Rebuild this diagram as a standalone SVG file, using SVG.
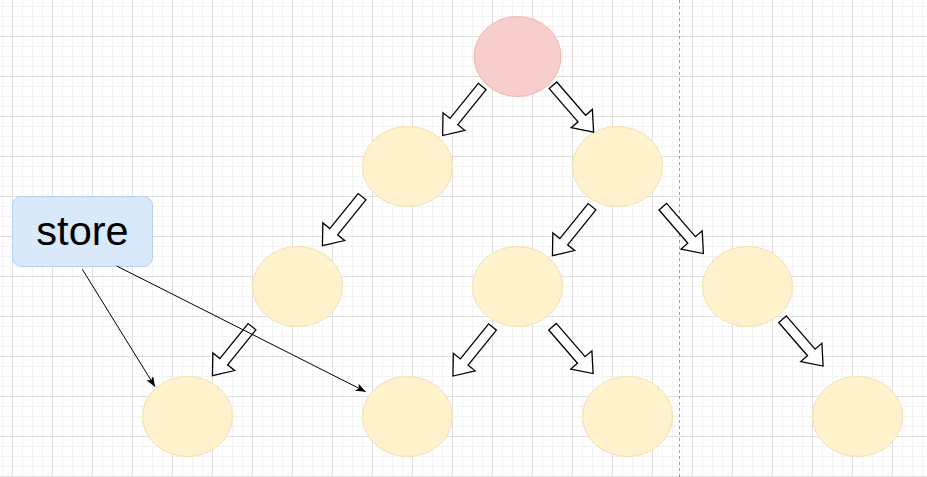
<svg xmlns="http://www.w3.org/2000/svg" width="927" height="477" viewBox="0 0 927 477">
  <defs>
    <pattern id="minor" patternUnits="userSpaceOnUse" x="2" y="6" width="10" height="10">
      <path d="M0.5,0 V10 M0,0.5 H10" fill="none" stroke="#f3f3f3" stroke-width="1"/>
    </pattern>
    <pattern id="major" patternUnits="userSpaceOnUse" x="12" y="36" width="40" height="40">
      <path d="M0.5,0 V40 M0,0.5 H40" fill="none" stroke="#e0e0e0" stroke-width="1"/>
    </pattern>
    <marker id="arr" viewBox="0 0 10 8" markerUnits="userSpaceOnUse" markerWidth="10" markerHeight="8" refX="10" refY="4" orient="auto">
      <path d="M0,0 L10,4 L0,8 L2.5,4 Z" fill="#000"/>
    </marker>
    <path id="fdl" d="M0,-5 H45 V-14 L63,0 L45,14 V5 H0 Z"/>
    <path id="fdr" d="M0,-5 H44 V-14 L62,0 L44,14 V5 H0 Z"/>
  </defs>
  <style>
    .yel { fill: #fff2cc; stroke: #f3e0ac; stroke-width: 1; }
    .red { fill: #f8cecc; stroke: #eeb6b3; stroke-width: 1; }
    .blue { fill: #dae8fc; stroke: #b9d0f0; stroke-width: 1; }
    .flex { fill: #ffffff; stroke: #000000; stroke-width: 1.3; stroke-linejoin: miter; }
    .link { fill: none; stroke: #000000; stroke-width: 1; marker-end: url(#arr); }
    .lbl { font-family: "Liberation Sans", Arial, sans-serif; font-size: 41.5px; fill: #000; }
  </style>
  <rect x="0" y="0" width="927" height="477" fill="#ffffff"/>
  <rect x="0" y="0" width="927" height="477" fill="url(#minor)"/>
  <rect x="0" y="0" width="927" height="477" fill="url(#major)"/>
  <line x1="679.5" y1="0" x2="679.5" y2="477" stroke="#a0a0a0" stroke-width="1" stroke-dasharray="3,3"/>

  <g id="root"><ellipse class="red" cx="517.5" cy="56.5" rx="43.5" ry="40"/></g>
  <g id="n2l"><ellipse class="yel" cx="407.5" cy="166.5" rx="45" ry="40"/></g>
  <g id="n2r"><ellipse class="yel" cx="617.5" cy="166.5" rx="45" ry="40"/></g>
  <g id="n3a"><ellipse class="yel" cx="297.5" cy="286.5" rx="45" ry="40"/></g>
  <g id="n3b"><ellipse class="yel" cx="517.5" cy="286.5" rx="45" ry="40"/></g>
  <g id="n3c"><ellipse class="yel" cx="747.5" cy="286.5" rx="45" ry="40"/></g>
  <g id="n4a"><ellipse class="yel" cx="187.5" cy="416.5" rx="45" ry="40"/></g>
  <g id="n4b"><ellipse class="yel" cx="407.5" cy="416.5" rx="45" ry="40"/></g>
  <g id="n4c"><ellipse class="yel" cx="627.5" cy="416.5" rx="45" ry="40"/></g>
  <g id="n4d"><ellipse class="yel" cx="857.5" cy="416.5" rx="45" ry="40"/></g>
  <g id="store">
    <rect class="blue" x="12.5" y="196.5" width="140" height="70" rx="9" ry="9"/>
    <text class="lbl" x="82.5" y="244.5" text-anchor="middle">store</text>
  </g>

  <g id="connectors">
    <use href="#fdl" class="flex" transform="translate(482.2,86.5) rotate(128.9)"/>
    <use href="#fdr" class="flex" transform="translate(553,85.3) rotate(49.1)"/>
    <use href="#fdl" class="flex" transform="translate(362,196.7) rotate(128.9)"/>
    <use href="#fdl" class="flex" transform="translate(592,206.7) rotate(128.9)"/>
    <use href="#fdr" class="flex" transform="translate(662.8,206.7) rotate(49.1)"/>
    <use href="#fdr" class="flex" transform="translate(782.5,319.2) rotate(49.1)"/>
    <use href="#fdl" class="flex" transform="translate(492.5,327) rotate(128.9)"/>
    <use href="#fdr" class="flex" transform="translate(552.5,326.7) rotate(49.1)"/>
    <use href="#fdl" class="flex" transform="translate(252,326.7) rotate(128.9)"/>
    <line class="link" x1="82.3" y1="269.3" x2="155" y2="386.7"/>
    <line class="link" x1="116.7" y1="266" x2="365.7" y2="391.7"/>
  </g>
</svg>
